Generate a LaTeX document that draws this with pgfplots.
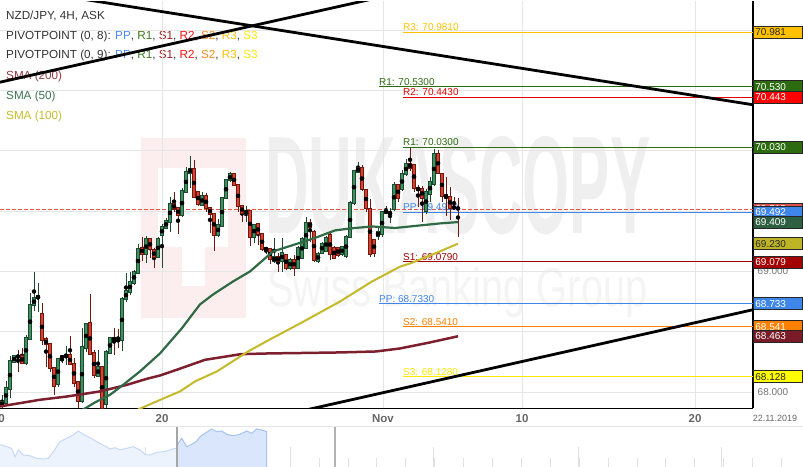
\documentclass[border=0pt]{standalone}
\usepackage{fontspec}
\setmainfont{Liberation Sans}
\usepackage{graphicx}
\usepackage{pgfplots}
\usepackage{pgfplotstable}
\pgfplotsset{compat=1.18}

\definecolor{txt}{HTML}{333333}
\definecolor{gridc}{HTML}{E6E6E6}
\definecolor{tickc}{HTML}{666666}
\definecolor{ppc}{HTML}{4A8AF4}
\definecolor{r1c}{HTML}{3B7A1E}
\definecolor{s1c}{HTML}{A51C1C}
\definecolor{r2c}{HTML}{F01414}
\definecolor{s2c}{HTML}{FF8A1C}
\definecolor{r3c}{HTML}{FFC107}
\definecolor{s3c}{HTML}{FFE800}
\definecolor{sma200}{HTML}{7E1F2D}
\definecolor{sma50}{HTML}{2F6A44}
\definecolor{sma100}{HTML}{C3B92A}
\definecolor{sma200t}{HTML}{96363F}
\definecolor{sma50t}{HTML}{3F7552}
\definecolor{sma100t}{HTML}{C6BC2E}
\definecolor{cg}{HTML}{3F9063}
\definecolor{cgd}{HTML}{1D4A2E}
\definecolor{cr}{HTML}{D8412F}
\definecolor{crd}{HTML}{6E1A10}
\definecolor{curc}{HTML}{E8553F}
\definecolor{tagr3}{HTML}{FFC000}
\definecolor{tagr1}{HTML}{2C6B10}
\definecolor{tagr2}{HTML}{FF0000}
\definecolor{tagcur}{HTML}{D9534F}
\definecolor{tagpp}{HTML}{3E86EA}
\definecolor{tagsmaf}{HTML}{2D5F40}
\definecolor{tagsmah}{HTML}{BDB526}
\definecolor{tags1}{HTML}{A30000}
\definecolor{tags2}{HTML}{FF8000}
\definecolor{tagsmat}{HTML}{7A1C28}
\definecolor{tags3}{HTML}{FFFF00}
\definecolor{lr3}{HTML}{FFC000}
\definecolor{lr1}{HTML}{2E6B12}
\definecolor{lr2}{HTML}{E00000}
\definecolor{lpp}{HTML}{3E86EA}
\definecolor{ls1}{HTML}{A00000}
\definecolor{ls2}{HTML}{FF8000}
\definecolor{ls3}{HTML}{FFE600}
\definecolor{wmpink}{HTML}{FCEEEE}
\definecolor{wmgray}{HTML}{EFEFEF}
\definecolor{wmgray2}{HTML}{F4F4F4}
\definecolor{navfill}{HTML}{EDF3FD}
\definecolor{navline}{HTML}{C6D9F6}
\definecolor{selfill}{HTML}{D9E6FB}
\definecolor{selline}{HTML}{A7C3F1}

\tikzset{
  tag/.style={anchor=west, draw=black!85, line width=0.8bp, minimum height=12bp,
    text width=45bp, inner xsep=2bp, inner ysep=0pt,
    font=\fontsize{10bp}{12bp}\selectfont, text=white},
  pv/.style={anchor=base west, inner sep=0pt, yshift=1.5bp,
    font=\fontsize{10bp}{12bp}\selectfont},
  graylab/.style={anchor=west, inner sep=0pt, xshift=4.5bp, text=black!55,
    font=\fontsize{10bp}{12bp}\selectfont}
}

% NZD/JPY 4H candles: index, open, high, low, close
\pgfplotstableread{
i o h l c
0 67.882 67.978 67.867 67.923
1 67.909 68.089 67.896 68.039
2 68.020 68.296 67.950 68.263
3 68.249 68.304 68.246 68.302
4 68.302 68.351 68.172 68.290
5 68.304 68.365 68.238 68.240
6 68.240 68.476 68.227 68.453
7 68.439 68.820 68.434 68.729
8 68.716 69.000 68.669 68.785
9 68.774 68.903 68.669 68.801
10 68.652 68.737 68.393 68.431
11 68.442 68.461 68.213 68.393
12 68.401 68.403 68.172 68.194
13 68.207 68.213 67.978 68.050
14 68.061 68.282 68.047 68.282
15 68.277 68.304 68.240 68.302
16 68.288 68.379 68.227 68.310
17 68.310 68.470 68.227 68.227
18 68.235 68.282 68.047 68.075
19 68.089 68.089 67.867 67.923
20 67.923 68.530 67.909 68.376
21 68.365 68.569 68.337 68.569
22 68.577 68.812 68.310 68.315
23 68.329 68.348 68.122 68.138
24 68.130 68.351 68.122 68.213
25 68.213 68.213 67.860 67.868
26 67.896 68.348 67.867 68.337
27 68.323 68.461 68.323 68.453
28 68.453 68.530 68.310 68.426
29 68.437 68.525 68.365 68.423
30 68.426 68.787 68.345 68.774
31 68.766 68.986 68.751 68.843
32 68.829 69.000 68.807 68.917
33 68.903 69.014 68.890 69.000
34 68.986 69.224 68.975 69.188
35 69.199 69.290 69.083 69.143
36 69.143 69.298 69.069 69.271
37 69.271 69.275 69.110 69.180
38 69.180 69.199 69.027 69.118
39 69.118 69.290 69.110 69.276
40 69.296 69.392 69.027 69.370
41 69.359 69.440 69.348 69.420
42 69.408 69.621 69.326 69.563
43 69.563 69.663 69.497 69.516
44 69.530 69.530 69.312 69.461
45 69.464 69.690 69.455 69.671
46 69.657 69.870 69.650 69.829
47 69.814 69.961 69.690 69.856
48 69.856 69.920 69.605 69.613
49 69.663 69.665 69.545 69.553
50 69.547 69.655 69.540 69.630
51 69.630 69.649 69.497 69.524
52 69.530 69.532 69.323 69.470
53 69.481 69.481 69.171 69.298
54 69.298 69.431 69.290 69.392
55 69.373 69.620 69.365 69.613
56 69.602 69.768 69.598 69.760
57 69.751 69.829 69.746 69.809
58 69.809 69.820 69.705 69.710
59 69.718 69.722 69.497 69.539
60 69.544 69.547 69.414 69.483
61 69.475 69.539 69.414 69.503
62 69.505 69.511 69.207 69.284
63 69.284 69.398 69.234 69.387
64 69.395 69.400 69.221 69.304
65 69.312 69.315 69.174 69.180
66 69.199 69.201 69.147 69.174
67 69.193 69.199 69.060 69.097
68 69.083 69.276 69.069 69.124
69 69.124 69.152 69.000 69.083
70 69.083 69.282 69.000 69.157
71 69.138 69.145 69.012 69.027
72 69.022 69.110 69.015 69.099
73 69.099 69.138 68.959 69.022
74 69.027 69.210 69.020 69.199
75 69.110 69.285 69.100 69.273
76 69.193 69.456 69.185 69.406
77 69.406 69.437 69.249 69.365
78 69.331 69.348 69.078 69.089
79 69.083 69.160 69.075 69.152
80 69.152 69.245 69.145 69.234
81 69.166 69.290 69.160 69.282
82 69.307 69.331 69.097 69.141
83 69.199 69.215 69.100 69.110
84 69.199 69.205 69.124 69.133
85 69.138 69.215 69.130 69.207
86 69.124 69.300 69.110 69.290
87 69.282 69.585 69.275 69.574
88 69.563 69.845 69.555 69.834
89 69.823 69.906 69.814 69.862
90 69.862 69.878 69.670 69.677
91 69.679 69.685 69.497 69.524
92 69.524 69.605 69.124 69.138
93 69.265 69.270 69.124 69.149
94 69.290 69.373 69.265 69.331
95 69.307 69.505 69.290 69.497
96 69.483 69.539 69.475 69.511
97 69.464 69.522 69.398 69.497
98 69.511 69.746 69.505 69.718
99 69.718 69.722 69.580 69.602
100 69.677 69.845 69.670 69.814
101 69.801 69.928 69.795 69.897
102 69.897 70.022 69.829 69.856
103 69.884 69.890 69.663 69.690
104 69.696 69.721 69.539 69.669
105 69.690 69.712 69.414 69.607
106 69.497 69.680 69.480 69.663
107 69.635 69.787 69.580 69.746
108 69.718 70.019 69.710 69.980
109 69.980 70.003 69.805 69.814
110 69.814 69.820 69.580 69.621
111 69.638 69.779 69.456 69.607
112 69.621 69.704 69.431 69.524
113 69.539 69.621 69.514 69.524
114 69.530 69.605 69.290 69.515
}\candles

\pgfplotstableread{
i p
19.5 67.840
23.25 67.915
27 67.978
30.25 68.060
34.5 68.172
39.5 68.321
44.93 68.528
49.5 68.727
52.75 68.809
57.75 68.917
62 69.000
67.75 69.166
73.25 69.224
78.25 69.278
83.25 69.340
87 69.356
92.5 69.373
98.25 69.360
103.25 69.377
109.5 69.398
114 69.409
}\smafifty

\pgfplotstableread{
i p
34 67.857
34.75 67.867
40.5 67.950
44.5 68.006
48.25 68.089
53.75 68.172
61.5 68.337
67 68.437
74.5 68.569
84.5 68.751
92.5 68.917
99.5 69.040
102 69.066
108.25 69.149
114 69.230
}\smahundred

\pgfplotstableread{
i p
-0.5 67.882
4.5 67.909
9.5 67.937
16.25 67.964
24.5 68.006
31.25 68.061
36.25 68.111
39.5 68.138
43.75 68.186
50.75 68.268
59.75 68.315
67 68.321
76.25 68.325
84.5 68.329
93.5 68.337
99.5 68.362
107 68.412
114 68.463
}\smatwohundred

\begin{document}
\begin{tikzpicture}[x=1bp,y=1bp]
\path[use as bounding box] (0,0) rectangle (803,467);

% watermark behind the chart
\fill[wmpink] (141,149) rectangle (246,329);
\fill[white] (158,220) rectangle (228,299);
\fill[white] (182,181) rectangle (205,220);
\node[anchor=south west, inner sep=0pt, text=wmgray] at (265,232)
  {\resizebox{385bp}{97bp}{\bfseries DUKASCOPY}};
\node[anchor=base west, inner sep=0pt, text=wmgray2] at (267,160)
  {\scalebox{0.73}[1]{\fontsize{54.5bp}{60bp}\selectfont Swiss Banking Group}};

% legend text, top left
\begin{scope}[every node/.style={anchor=base west, inner sep=0pt,
    font=\fontsize{11.7bp}{14bp}\selectfont, text=txt}]
\node at (6,447) {NZD/JPY, 4H, ASK};
\node at (6,427.5) {PIVOTPOINT (0, 8): \textcolor{ppc}{PP}, \textcolor{r1c}{R1}, \textcolor{s1c}{S1}, \textcolor{r2c}{R2}, \textcolor{s2c}{S2}, \textcolor{r3c}{R3}, \textcolor{s3c}{S3}};
\node at (6,408) {PIVOTPOINT (0, 9): \textcolor{ppc}{PP}, \textcolor{r1c}{R1}, \textcolor{s1c}{S1}, \textcolor{r2c}{R2}, \textcolor{s2c}{S2}, \textcolor{r3c}{R3}, \textcolor{s3c}{S3}};
\node[text=sma200t] at (6,387.5) {SMA (200)};
\node[text=sma50t] at (6,367.5) {SMA (50)};
\node[text=sma100t] at (6,347.5) {SMA (100)};
\end{scope}

\begin{axis}[
  at={(0,48.5)}, anchor=south west,
  scale only axis, width=753bp, height=407bp,
  xmin=-0.5, xmax=187.75, ymin=67.865, ymax=71.237,
  axis x line*=bottom, axis y line*=right,
  axis line style={black, line width=1.3bp},
  clip mode=individual,
  xtick={40,95.25,130,173.25}, xticklabels={20,Nov,10,20},
  ytick={68,68.5,...,71}, yticklabels={},
  major tick length=0pt,
  grid=major, grid style={gridc, line width=1bp},
  xticklabel style={font=\fontsize{11.5bp}{13bp}\selectfont\bfseries,
    text=tickc, anchor=center, yshift=-10bp},
]
% current price
\addplot[curc, line width=1bp, dash pattern=on 4bp off 2bp] coordinates {(-0.5,69.515) (187.75,69.515)};

% pivot points
\addplot[lr3, line width=1bp] coordinates {(100.25,70.981) (187.75,70.981)};
\addplot[lr1, line width=1bp] coordinates {(94.25,70.530) (187.75,70.530)};
\addplot[lr2, line width=1bp] coordinates {(100.25,70.443) (187.75,70.443)};
\addplot[lr1, line width=1bp] coordinates {(100.25,70.030) (187.75,70.030)};
\addplot[lpp, line width=1bp] coordinates {(100.25,69.492) (187.75,69.492)};
\addplot[ls1, line width=1bp] coordinates {(100.25,69.079) (187.75,69.079)};
\addplot[lpp, line width=1bp] coordinates {(94.25,68.733) (187.75,68.733)};
\addplot[ls2, line width=1bp] coordinates {(100.25,68.541) (187.75,68.541)};
\addplot[ls3, line width=1bp] coordinates {(100.25,68.128) (187.75,68.128)};
\node[pv, text=lr3] at (axis cs:100.25,70.981) {R3: 70.9810};
\node[pv, text=lr1] at (axis cs:94.25,70.530) {R1: 70.5300};
\node[pv, text=lr2] at (axis cs:100.25,70.443) {R2: 70.4430};
\node[pv, text=lr1] at (axis cs:100.25,70.030) {R1: 70.0300};
\node[pv, text=lpp] at (axis cs:100.25,69.492) {PP: 69.4920};
\node[pv, text=ls1] at (axis cs:100.25,69.079) {S1: 69.0790};
\node[pv, text=lpp] at (axis cs:94.25,68.733) {PP: 68.7330};
\node[pv, text=ls2] at (axis cs:100.25,68.541) {S2: 68.5410};
\node[pv, text=ls3] at (axis cs:100.25,68.128) {S3: 68.1280};

% candles: wicks
\addplot[only marks, mark=none, forget plot,
  error bars/.cd, y dir=both, y explicit, error mark=none,
  error bar style={draw=cgd, line width=0.9bp}]
  table[x=i, y expr={\thisrow{c}>\thisrow{o} ? (\thisrow{h}+\thisrow{l})/2 : 66},
        y error expr={(\thisrow{h}-\thisrow{l})/2}] {\candles};
\addplot[only marks, mark=none, forget plot,
  error bars/.cd, y dir=both, y explicit, error mark=none,
  error bar style={draw=crd, line width=0.9bp}]
  table[x=i, y expr={\thisrow{c}<\thisrow{o} ? (\thisrow{h}+\thisrow{l})/2 : 66},
        y error expr={(\thisrow{h}-\thisrow{l})/2}] {\candles};
% candles: bodies (outline, then fill)
\addplot[only marks, mark=none, forget plot,
  error bars/.cd, y dir=both, y explicit, error mark=none,
  error bar style={draw=cgd, line width=3.3bp}]
  table[x=i, y expr={\thisrow{c}>\thisrow{o} ? (\thisrow{o}+\thisrow{c})/2 : 66},
        y error expr={abs(\thisrow{c}-\thisrow{o})/2+0.004}] {\candles};
\addplot[only marks, mark=none, forget plot,
  error bars/.cd, y dir=both, y explicit, error mark=none,
  error bar style={draw=cg, line width=1.7bp}]
  table[x=i, y expr={\thisrow{c}>\thisrow{o} ? (\thisrow{o}+\thisrow{c})/2 : 66},
        y error expr={max(abs(\thisrow{c}-\thisrow{o})/2-0.004,0)}] {\candles};
\addplot[only marks, mark=none, forget plot,
  error bars/.cd, y dir=both, y explicit, error mark=none,
  error bar style={draw=crd, line width=3.3bp}]
  table[x=i, y expr={\thisrow{c}<\thisrow{o} ? (\thisrow{o}+\thisrow{c})/2 : 66},
        y error expr={abs(\thisrow{c}-\thisrow{o})/2+0.004}] {\candles};
\addplot[only marks, mark=none, forget plot,
  error bars/.cd, y dir=both, y explicit, error mark=none,
  error bar style={draw=cr, line width=1.7bp}]
  table[x=i, y expr={\thisrow{c}<\thisrow{o} ? (\thisrow{o}+\thisrow{c})/2 : 66},
        y error expr={max(abs(\thisrow{c}-\thisrow{o})/2-0.004,0)}] {\candles};

% moving averages
\addplot[sma200, line width=2.5bp, line join=round] table[x=i, y=p] {\smatwohundred};
\addplot[sma100, line width=2bp, line join=round] table[x=i, y=p] {\smahundred};
\addplot[sma50, line width=2.2bp, line join=round] table[x=i, y=p] {\smafifty};

% trend lines
\addplot[black, line width=2.8bp] coordinates {(20,71.257) (187.75,70.381)};
\addplot[black, line width=2.8bp] coordinates {(-0.5,70.568) (100,71.312)};
\addplot[black, line width=2.8bp] coordinates {(75,67.845) (187.75,68.683)};

% price tags on the right
\node[tag, fill=tagr3, text=black!85] at (axis cs:187.75,70.981) {70.981};
\node[tag, fill=tagr1] at (axis cs:187.75,70.530) {70.530};
\node[tag, fill=tagr2] at (axis cs:187.75,70.443) {70.443};
\node[tag, fill=tagr1] at (axis cs:187.75,70.030) {70.030};
\node[graylab] at (axis cs:187.75,69.000) {69.000};
\node[tag, fill=tagcur] at (axis cs:187.75,69.515) {69.515};
\node[tag, fill=tagpp] at (axis cs:187.75,69.492) {69.492};
\node[tag, fill=tagsmaf] at (axis cs:187.75,69.409) {69.409};
\node[tag, fill=tagsmah, text=black!85] at (axis cs:187.75,69.230) {69.230};
\node[tag, fill=tags1] at (axis cs:187.75,69.079) {69.079};
\node[tag, fill=tagpp] at (axis cs:187.75,68.733) {68.733};
\node[tag, fill=tags2] at (axis cs:187.75,68.541) {68.541};
\node[tag, fill=tagsmat] at (axis cs:187.75,68.463) {68.463};
\node[tag, fill=tags3, text=black!85] at (axis cs:187.75,68.128) {68.128};
\node[graylab] at (axis cs:187.75,68.000) {68.000};
\node[anchor=center, inner sep=0pt, xshift=22bp, yshift=-10bp, text=tickc,
  font=\fontsize{9bp}{11bp}\selectfont] at (axis cs:187.75,67.865) {22.11.2019};
\node[anchor=center, inner sep=0pt, xshift=-1.5bp, yshift=-10bp, text=tickc,
  font=\fontsize{11.5bp}{13bp}\selectfont\bfseries] at (axis cs:-0.5,67.865) {10};
\end{axis}

% navigator
\begin{axis}[
  at={(0,0)}, anchor=south west,
  scale only axis, width=803bp, height=40bp,
  xmin=0, xmax=803, ymin=0, ymax=40,
  axis line style={draw=none},
  xtick={145.7,290,433.3,578.3,721.7}, xticklabels={},
  minor xtick={1.2,30.1,...,800},
  ytick=\empty, tick align=inside, xtick pos=left,
  major tick length=20bp, minor tick length=9bp,
  tick style={draw=black!12, line width=1bp},
]
\addplot[fill=navfill, draw=none] table {
x h
0 22
1.7 22
6.7 20.3
11.7 18.7
15 10.3
18.3 17
23.3 12
30 11.3
36.7 8.7
43.3 8
48.3 8.7
53.3 15.3
60 25.3
66.7 28.7
73.3 32
78.3 36
83.3 32.7
90 29.3
96.7 25.3
103.3 22
110 18
115 19.3
120 17
126.7 18.7
133.3 20.3
140 17
145.7 12
150 12
156.7 14.7
163.3 15.3
170 17
175 18.7
176.7 18.7
} \closedcycle;
\addplot[navline, line width=1bp] table {
x h
0 22
1.7 22
6.7 20.3
11.7 18.7
15 10.3
18.3 17
23.3 12
30 11.3
36.7 8.7
43.3 8
48.3 8.7
53.3 15.3
60 25.3
66.7 28.7
73.3 32
78.3 36
83.3 32.7
90 29.3
96.7 25.3
103.3 22
110 18
115 19.3
120 17
126.7 18.7
133.3 20.3
140 17
145.7 12
150 12
156.7 14.7
163.3 15.3
170 17
175 18.7
176.7 18.7
};
\addplot[fill=selfill, draw=none] table {
x h
176.7 18.7
178.3 23.7
181.7 28.7
186.7 20.3
191.7 22.7
196.7 26
200 30.3
205 33.7
211.7 38
216.7 35.3
221.7 36
226.7 32.7
233.3 31.3
240 32.7
246.7 36
251.7 33.7
256.7 38
261.7 37
266.7 35.3
} \closedcycle;
\addplot[selline, line width=1bp] table {
x h
176.7 18.7
178.3 23.7
181.7 28.7
186.7 20.3
191.7 22.7
196.7 26
200 30.3
205 33.7
211.7 38
216.7 35.3
221.7 36
226.7 32.7
233.3 31.3
240 32.7
246.7 36
251.7 33.7
256.7 38
261.7 37
266.7 35.3
266.7 0
};
\addplot[black!35, line width=1.5bp] coordinates {(177,0) (177,40)};
\addplot[black!30, line width=1.5bp] coordinates {(335,0) (335,40)};
\end{axis}
\draw[black!10, line width=1bp] (0,40) -- (803,40);
\end{tikzpicture}
\end{document}
